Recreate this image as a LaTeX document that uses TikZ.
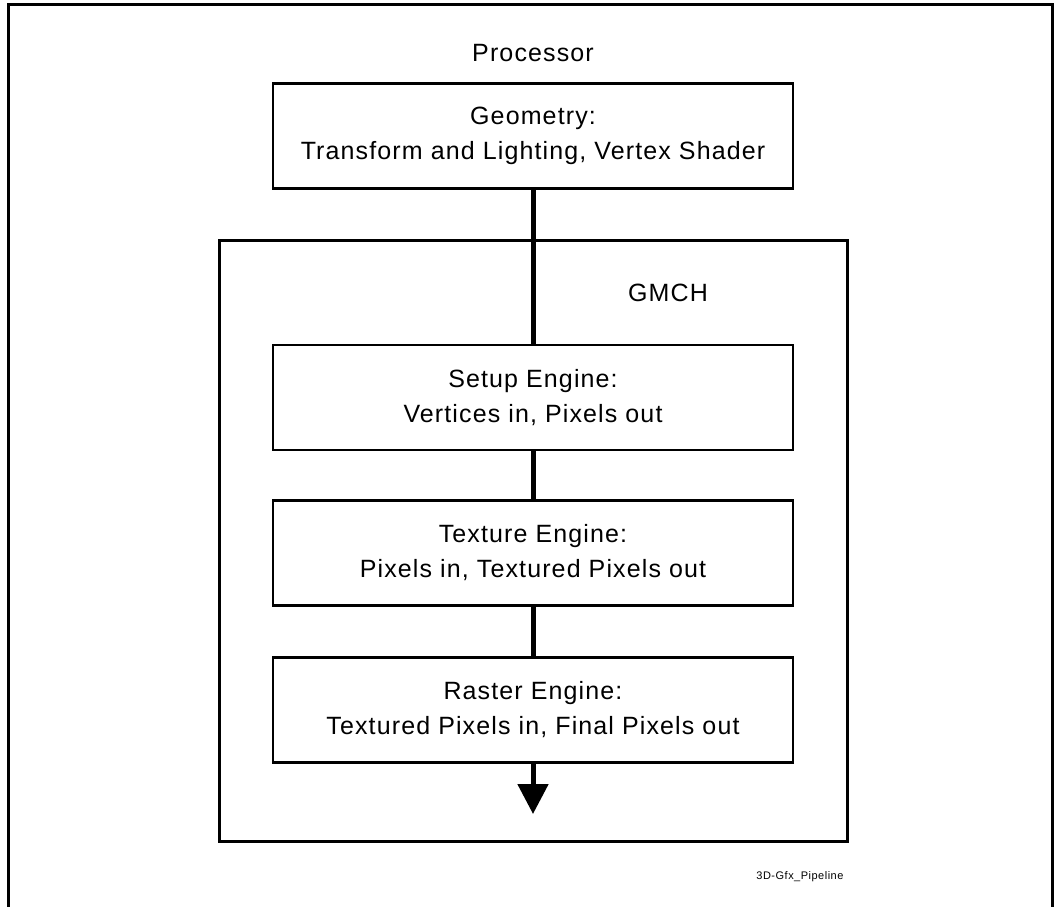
\documentclass[tikz,border=0pt]{standalone}
\usepackage{fontspec}
\setmainfont{Liberation Sans}[LetterSpace=4.5]
\usetikzlibrary{arrows.meta}

\begin{document}
\begin{tikzpicture}[x=1pt, y=-1pt,
    stage/.style={draw, line width=2.5pt, minimum width=520pt, minimum height=105pt,
        align=center, inner sep=0pt, font=\fontsize{25}{35}\selectfont},
    label/.style={font=\fontsize{25}{30}\selectfont},
    flow/.style={line width=5pt}]
        \useasboundingbox (0,0) rectangle (1060,907);

        % Draw the outer frame (open at the bottom)
        \draw[line width=3pt] (8,907) -- (8,5) -- (1052,5) -- (1052,907);

        % Draw the GMCH box
        \draw[line width=3pt] (219,240) rectangle (847,841);

        % Processor stage
        \node[label] (proc) at (533,53) {Processor};
        \node[stage] (geom) at (533,136) {Geometry:\\Transform and Lighting, Vertex Shader};

        % GMCH stages
        \node[label] (gmch) at (668,293) {GMCH};
        \node[stage] (setup) at (533,397.5) {Setup Engine:\\Vertices in, Pixels out};
        \node[stage] (texture) at (533,553) {Texture Engine:\\Pixels in, Textured Pixels out};
        \node[stage] (raster) at (533,710) {Raster Engine:\\Textured Pixels in, Final Pixels out};
        \coordinate (out) at (533,814);

        % Connect the stages
        \draw[flow] (geom.south) -- (setup.north);
        \draw[flow] (setup.south) -- (texture.north);
        \draw[flow] (texture.south) -- (raster.north);
        \draw[flow, -{Triangle[width=30pt, length=30pt]}] (raster.south) -- (out);

        % Figure tag
        \node[font=\fontsize{11}{13}\selectfont, anchor=east] (tag) at (847,877) {3D-Gfx\_Pipeline};
    \end{tikzpicture}
\end{document}
